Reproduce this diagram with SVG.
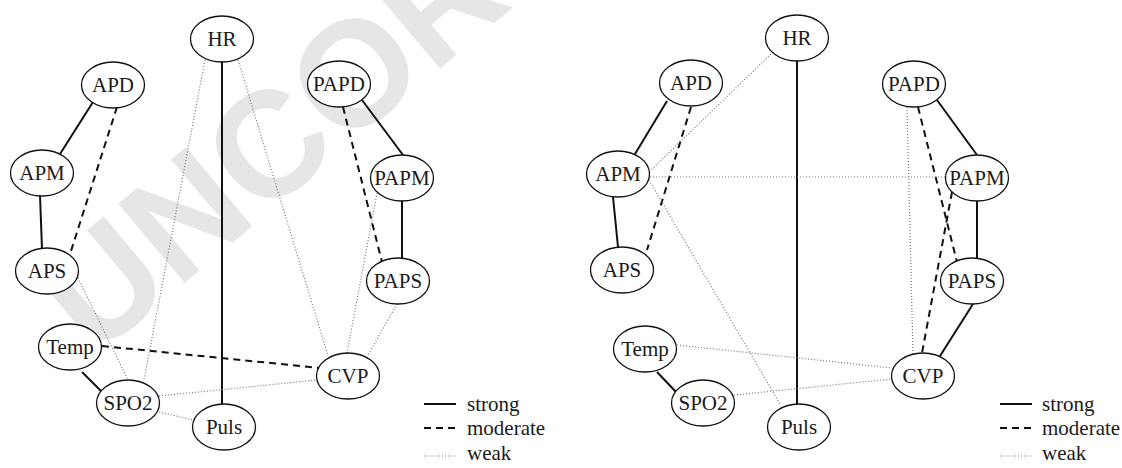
<svg xmlns="http://www.w3.org/2000/svg" width="1122" height="468" viewBox="0 0 1122 468">
<style>
.wm{font-family:"Liberation Sans",Arial,sans-serif;font-weight:bold;font-size:150px;fill:#e6e6e6}
.n ellipse{fill:#fff;stroke:#111;stroke-width:1.3}
.n text,.lg text{font-family:"Liberation Serif","Times New Roman",serif;font-size:21px;fill:#1a1a1a;text-anchor:middle}
.lg text{text-anchor:start}
.s{stroke:#111;stroke-width:2;fill:none}
.m{stroke:#111;stroke-width:2;stroke-dasharray:7 5;fill:none}
.w{stroke:#777;stroke-width:1.2;stroke-dasharray:1 2;fill:none}
</style>
<text class="wm" transform="translate(94,359) rotate(-40)">UNCOR</text>
<g id="connectors">
<!-- left panel -->
<line class="s" x1="93" y1="102" x2="60" y2="154"/>
<line class="s" x1="40" y1="195" x2="42" y2="249"/>
<line class="s" x1="222" y1="62" x2="222" y2="404"/>
<line class="s" x1="82" y1="372" x2="102" y2="392"/>
<line class="s" x1="362" y1="100" x2="403" y2="155"/>
<line class="s" x1="402" y1="201" x2="402" y2="258"/>
<line class="m" x1="117" y1="107" x2="71" y2="251"/>
<line class="m" x1="102" y1="346" x2="320" y2="368"/>
<line class="m" x1="343" y1="107" x2="382" y2="262"/>
<line class="w" x1="205" y1="60" x2="144" y2="380"/>
<line class="w" x1="238" y1="60" x2="328" y2="356"/>
<line class="w" x1="78" y1="278" x2="128" y2="380"/>
<line class="w" x1="159" y1="396" x2="317" y2="380"/>
<line class="w" x1="159" y1="412" x2="193" y2="420"/>
<line class="w" x1="377" y1="193" x2="347" y2="353"/>
<line class="w" x1="397" y1="304" x2="368" y2="355"/>
<!-- right panel -->
<line class="s" x1="667" y1="101" x2="635" y2="154"/>
<line class="s" x1="613" y1="197" x2="618" y2="247"/>
<line class="s" x1="797" y1="61" x2="797" y2="404"/>
<line class="s" x1="657" y1="372" x2="677" y2="393"/>
<line class="s" x1="937" y1="100" x2="977" y2="155"/>
<line class="s" x1="977" y1="201" x2="977" y2="258"/>
<line class="s" x1="973" y1="304" x2="940" y2="356"/>
<line class="m" x1="691" y1="107" x2="647" y2="250"/>
<line class="m" x1="918" y1="107" x2="957" y2="262"/>
<line class="m" x1="952" y1="192" x2="922" y2="353"/>
<line class="w" x1="773" y1="52" x2="649" y2="172"/>
<line class="w" x1="650" y1="177" x2="946" y2="177"/>
<line class="w" x1="649" y1="180" x2="780" y2="404"/>
<line class="w" x1="677" y1="345" x2="892" y2="368"/>
<line class="w" x1="734" y1="395" x2="892" y2="379"/>
<line class="w" x1="907" y1="107" x2="913" y2="354"/>
</g>
<g id="L-HR" class="n"><ellipse cx="222" cy="39" rx="31.5" ry="23"/><text x="222" y="46">HR</text></g>
<g id="L-APD" class="n"><ellipse cx="113" cy="85" rx="31.5" ry="23"/><text x="113" y="92">APD</text></g>
<g id="L-APM" class="n"><ellipse cx="42" cy="173" rx="31.5" ry="23"/><text x="42" y="180">APM</text></g>
<g id="L-APS" class="n"><ellipse cx="47" cy="271" rx="31.5" ry="23"/><text x="47" y="278">APS</text></g>
<g id="L-Temp" class="n"><ellipse cx="70" cy="347" rx="31.5" ry="23"/><text x="70" y="354">Temp</text></g>
<g id="L-SPO2" class="n"><ellipse cx="128" cy="403" rx="31.5" ry="23"/><text x="128" y="410">SPO2</text></g>
<g id="L-Puls" class="n"><ellipse cx="224" cy="427" rx="31.5" ry="23"/><text x="224" y="434">Puls</text></g>
<g id="L-PAPD" class="n"><ellipse cx="339" cy="84" rx="31.5" ry="23"/><text x="339" y="91">PAPD</text></g>
<g id="L-PAPM" class="n"><ellipse cx="402" cy="178" rx="31.5" ry="23"/><text x="402" y="185">PAPM</text></g>
<g id="L-PAPS" class="n"><ellipse cx="398" cy="281" rx="31.5" ry="23"/><text x="398" y="288">PAPS</text></g>
<g id="L-CVP" class="n"><ellipse cx="348" cy="376" rx="31.5" ry="23"/><text x="348" y="383">CVP</text></g>
<g id="R-HR" class="n"><ellipse cx="797" cy="38" rx="31.5" ry="23"/><text x="797" y="45">HR</text></g>
<g id="R-APD" class="n"><ellipse cx="691" cy="83" rx="31.5" ry="23"/><text x="691" y="90">APD</text></g>
<g id="R-APM" class="n"><ellipse cx="618" cy="174" rx="31.5" ry="23"/><text x="618" y="181">APM</text></g>
<g id="R-APS" class="n"><ellipse cx="622" cy="270" rx="31.5" ry="23"/><text x="622" y="277">APS</text></g>
<g id="R-Temp" class="n"><ellipse cx="645" cy="349" rx="31.5" ry="23"/><text x="645" y="356">Temp</text></g>
<g id="R-SPO2" class="n"><ellipse cx="703" cy="403" rx="31.5" ry="23"/><text x="703" y="410">SPO2</text></g>
<g id="R-Puls" class="n"><ellipse cx="799" cy="427" rx="31.5" ry="23"/><text x="799" y="434">Puls</text></g>
<g id="R-PAPD" class="n"><ellipse cx="914" cy="84" rx="31.5" ry="23"/><text x="914" y="91">PAPD</text></g>
<g id="R-PAPM" class="n"><ellipse cx="977" cy="178" rx="31.5" ry="23"/><text x="977" y="185">PAPM</text></g>
<g id="R-PAPS" class="n"><ellipse cx="972" cy="281" rx="31.5" ry="23"/><text x="972" y="288">PAPS</text></g>
<g id="R-CVP" class="n"><ellipse cx="923" cy="376" rx="31.5" ry="23"/><text x="923" y="383">CVP</text></g>
<g id="L-legend" class="lg">
<line class="s" x1="424" y1="404" x2="456" y2="404"/><text x="467" y="411">strong</text>
<line class="m" x1="424" y1="428" x2="456" y2="428"/><text x="467" y="435">moderate</text>
<line class="w" x1="424" y1="456" x2="456" y2="456"/><text x="467" y="460">weak</text>
</g>
<g id="R-legend" class="lg">
<line class="s" x1="1000" y1="404" x2="1032" y2="404"/><text x="1042" y="411">strong</text>
<line class="m" x1="1000" y1="428" x2="1032" y2="428"/><text x="1042" y="435">moderate</text>
<line class="w" x1="1000" y1="456" x2="1032" y2="456"/><text x="1042" y="460">weak</text>
</g>
</svg>
